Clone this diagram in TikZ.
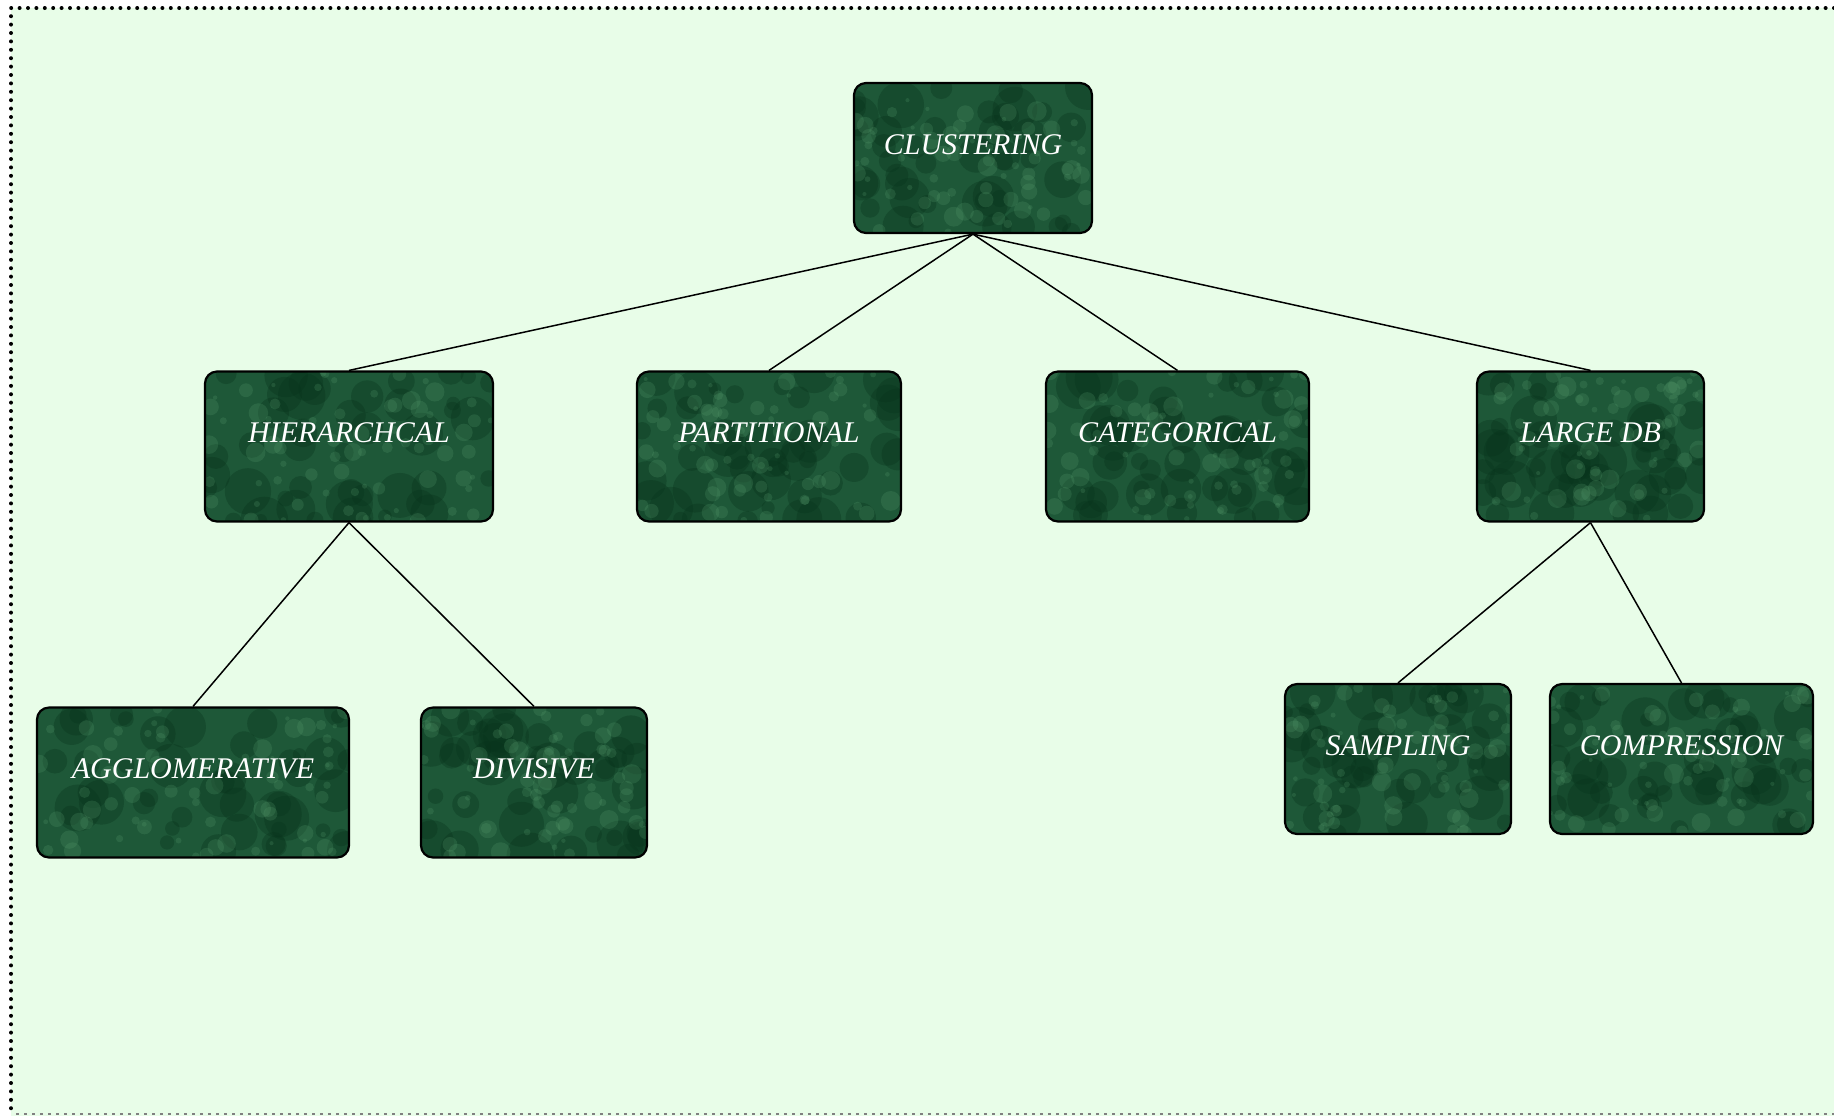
\documentclass[tikz,border=0pt]{standalone}
\usepackage{fontspec}
\setmainfont{Liberation Serif}
\usetikzlibrary{calc}
\definecolor{pagebg}{RGB}{232,253,232}
\definecolor{marble}{RGB}{30,88,56}
\definecolor{marblelight}{RGB}{90,160,112}
\definecolor{marbledark}{RGB}{8,52,28}
\tikzset{
  box/.style={draw=black, line width=1.1pt, rounded corners=6pt, fill=marble,
    minimum height=75pt, inner sep=0pt,
    path picture={
      \coordinate (sw) at (path picture bounding box.south west);
      \coordinate (ne) at (path picture bounding box.north east);
      \foreach \k in {1,...,45}{
        \pgfmathsetmacro\rx{rnd}\pgfmathsetmacro\ry{rnd}\pgfmathsetmacro\rr{3+9*rnd}
        \fill[marbledark,opacity=0.35] let \p1=(sw), \p2=(ne) in
          ({\x1+\rx*(\x2-\x1)},{\y1+\ry*(\y2-\y1)}) circle (\rr pt);
      }
      \foreach \k in {1,...,70}{
        \pgfmathsetmacro\rx{rnd}\pgfmathsetmacro\ry{rnd}\pgfmathsetmacro\rr{1+4*rnd}
        \fill[marblelight,opacity=0.22] let \p1=(sw), \p2=(ne) in
          ({\x1+\rx*(\x2-\x1)},{\y1+\ry*(\y2-\y1)}) circle (\rr pt);
      }
    }},
  lbl/.style={anchor=base, text=white, inner sep=0pt,
    font=\fontsize{15}{18}\selectfont\itshape},
  conn/.style={draw=black, line width=0.75pt}
}
\begin{document}
\begin{tikzpicture}[x=0.5pt,y=-0.5pt]
\pgfmathsetseed{11}
\useasboundingbox (0,0) rectangle (1834,1116);
\fill[white] (0,0) rectangle (1834,1116);
\fill[pagebg] (11,8) rectangle (1834,1116);
\draw[line width=2pt, line cap=round, dash pattern=on 0pt off 4.2pt] (1834,8) -- (11,8) -- (11,1116);
\draw[gray, line width=1pt, dash pattern=on 1.5pt off 2.5pt] (16,1114) -- (1834,1114);

\node[box, minimum width=119pt] (clu) at (973,158) {};
\node[box, minimum width=144pt] (hie) at (349,446.5) {};
\node[box, minimum width=132pt] (par) at (769,446.5) {};
\node[box, minimum width=131.5pt] (cat) at (1177.5,446.5) {};
\node[box, minimum width=113.5pt] (ldb) at (1590.5,446.5) {};
\node[box, minimum width=156pt] (agg) at (193,782.5) {};
\node[box, minimum width=113pt] (div) at (534,782.5) {};
\node[box, minimum width=113pt] (sam) at (1398,759) {};
\node[box, minimum width=131.5pt] (com) at (1681.5,759) {};

\node[lbl] (tclu) at ($(clu.center)+(0,-4)$) {CLUSTERING};
\node[lbl] (thie) at ($(hie.center)+(0,-4)$) {HIERARCHCAL};
\node[lbl] (tpar) at ($(par.center)+(0,-4)$) {PARTITIONAL};
\node[lbl] (tcat) at ($(cat.center)+(0,-4)$) {CATEGORICAL};
\node[lbl] (tldb) at ($(ldb.center)+(0,-4)$) {LARGE DB};
\node[lbl] (tagg) at ($(agg.center)+(0,-4)$) {AGGLOMERATIVE};
\node[lbl] (tdiv) at ($(div.center)+(0,-4)$) {DIVISIVE};
\node[lbl] (tsam) at ($(sam.center)+(0,-4)$) {SAMPLING};
\node[lbl] (tcom) at ($(com.center)+(0,-4)$) {COMPRESSION};

\draw[conn] (clu.south) -- (hie.north);
\draw[conn] (clu.south) -- (par.north);
\draw[conn] (clu.south) -- (cat.north);
\draw[conn] (clu.south) -- (ldb.north);
\draw[conn] (hie.south) -- (agg.north);
\draw[conn] (hie.south) -- (div.north);
\draw[conn] (ldb.south) -- (sam.north);
\draw[conn] (ldb.south) -- (com.north);
\end{tikzpicture}
\end{document}
